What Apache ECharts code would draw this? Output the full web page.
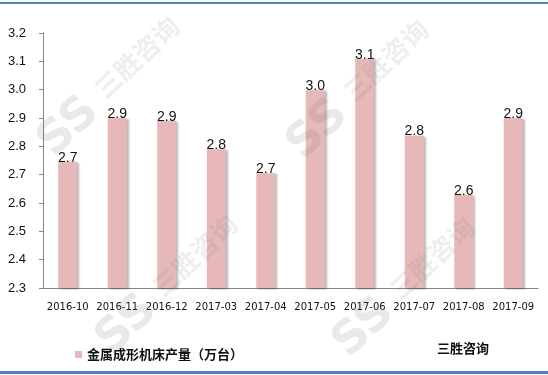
<!DOCTYPE html>
<html>
<head>
<meta charset="utf-8">
<style>
  html, body { margin: 0; padding: 0; background: #fff; }
  #chart { width: 548px; height: 375px; }
</style>
<script src="https://cdn.jsdelivr.net/npm/echarts@6/dist/echarts.min.js"></script>
</head>
<body>
<div id="chart"></div>
<script>
const months = ['2016-10', '2016-11', '2016-12', '2017-03', '2017-04', '2017-05', '2017-06', '2017-07', '2017-08', '2017-09'];
const output = [2.745, 2.90, 2.89, 2.79, 2.705, 2.998, 3.108, 2.838, 2.628, 2.90];
const seriesName = '金属成形机床产量（万台）';
const brand = '三胜咨询';

const chart = echarts.init(document.getElementById('chart'));

// faint watermark: rotated brand text + logo letters
const watermark = (x, y) => ([
    {
        type: 'text', x: x, y: y, rotation: Math.PI * 0.24, z: 100, silent: true,
        style: {text: brand, fontSize: 26, fontWeight: 'bold', fontFamily: 'Noto Sans CJK SC',
            fill: 'rgba(120,120,120,0.13)', align: 'center', verticalAlign: 'middle'}
    },
    {
        type: 'text', x: x - 68, y: y + 70, rotation: Math.PI * 0.24, z: 100, silent: true,
        style: {text: 'SS', fontSize: 46, fontWeight: 'bold', fontFamily: 'DejaVu Sans',
            fill: 'rgba(120,120,120,0.16)', align: 'center', verticalAlign: 'middle'}
    }
]);

const option = {
    animation: false,
    backgroundColor: '#fff',
    grid: {left: 43, right: 10, top: 33, bottom: 87},
    legend: {
        left: 70, top: 343,
        icon: 'rect', itemWidth: 7, itemHeight: 7, itemGap: 6,
        textStyle: {fontFamily: 'Noto Sans CJK SC', fontSize: 13, fontWeight: 'bold', color: '#111'}
    },
    xAxis: {
        type: 'category',
        data: months,
        axisLine: {lineStyle: {color: '#868686'}},
        axisTick: {length: 5, lineStyle: {color: '#868686'}},
        axisLabel: {fontFamily: 'DejaVu Sans', fontSize: 10, color: '#111', margin: 14, interval: 0}
    },
    yAxis: {
        type: 'value',
        min: 2.3, max: 3.2, interval: 0.1,
        axisLine: {show: true, lineStyle: {color: '#868686'}},
        axisTick: {show: true, length: 4, lineStyle: {color: '#868686'}},
        splitLine: {show: false},
        axisLabel: {
            fontFamily: 'Liberation Sans', fontSize: 13, color: '#111', margin: 17,
            formatter: v => v.toFixed(1)
        }
    },
    series: [{
        name: seriesName,
        type: 'bar',
        data: output,
        barWidth: 19,
        itemStyle: {
            color: '#e6b8b7',
            shadowColor: 'rgba(0,0,0,0.28)', shadowBlur: 2, shadowOffsetX: 2, shadowOffsetY: 1
        },
        label: {
            show: true, position: 'top', distance: -3,
            fontFamily: 'Liberation Sans', fontSize: 14, color: '#111',
            formatter: p => (Math.round(p.value * 10) / 10).toFixed(1)
        }
    }],
    graphic: [
        {type: 'rect', shape: {x: 0, y: 2, width: 548, height: 2}, style: {fill: '#4f81bd'}, silent: true},
        {type: 'rect', shape: {x: 0, y: 371, width: 548, height: 3}, style: {fill: '#4f81bd'}, silent: true},
        {
            type: 'text', left: 437, top: 342,
            style: {text: brand, fontFamily: 'Noto Sans CJK SC', fontSize: 13, fontWeight: 'bold', fill: '#111'}
        },
        ...watermark(137, 57),
        ...watermark(386, 60),
        ...watermark(195, 255),
        ...watermark(432, 258)
    ]
};

chart.setOption(option);
</script>
</body>
</html>
